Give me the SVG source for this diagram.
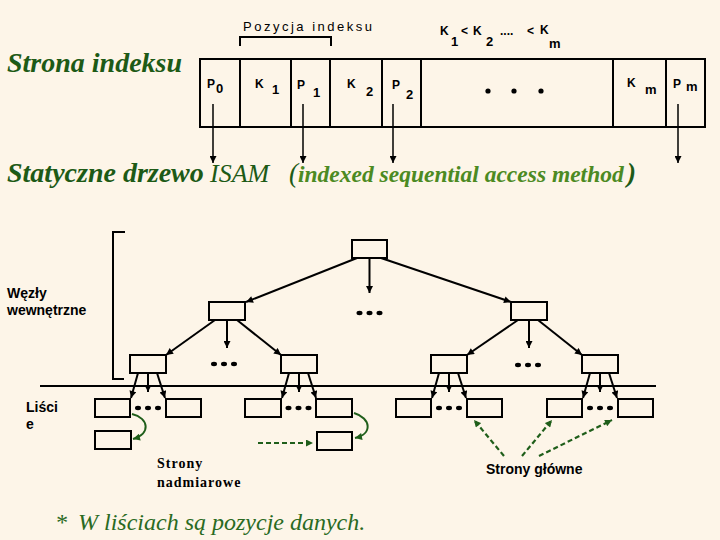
<svg xmlns="http://www.w3.org/2000/svg" width="720" height="540" viewBox="0 0 720 540">
<style>
.bg{fill:#FDF5E8}
.box{fill:none;stroke:#000;stroke-width:2}
.ln{fill:none;stroke:#000;stroke-width:2}
.arr{fill:none;stroke:#000;stroke-width:2;marker-end:url(#ah)}
.iarr{fill:none;stroke:#000;stroke-width:1.5;marker-end:url(#ih)}
.garr{fill:none;stroke:#1F5E1A;stroke-width:2;marker-end:url(#gh)}
.gdash{fill:none;stroke:#1F5E1A;stroke-width:2.2;stroke-dasharray:5 3;marker-end:url(#gh)}
.sans{font-family:"Liberation Sans",Arial,sans-serif;fill:#000}
.cell{font-family:"Liberation Sans",Arial,sans-serif;font-weight:bold;font-size:12px;fill:#000}
.sub{font-family:"Liberation Sans",Arial,sans-serif;font-weight:bold;font-size:13px;fill:#000}
.lbl{font-family:"Liberation Sans",Arial,sans-serif;font-weight:bold;font-size:14px;fill:#000}
.title{font-family:"Liberation Serif","Times New Roman",serif;font-style:italic;fill:#1D5A16}
</style>
<defs>
<marker id="ah" viewBox="0 0 10 10" refX="10" refY="5" markerWidth="9" markerHeight="7" markerUnits="userSpaceOnUse" orient="auto"><path d="M0,0 L10,5 L0,10 z" fill="#000"/></marker>
<marker id="ih" viewBox="0 0 10 10" refX="10" refY="5" markerWidth="12" markerHeight="7" markerUnits="userSpaceOnUse" orient="auto"><path d="M0,0 L10,5 L0,10 z" fill="#000"/></marker>
<marker id="gh" viewBox="0 0 10 10" refX="10" refY="5" markerWidth="8" markerHeight="7" markerUnits="userSpaceOnUse" orient="auto"><path d="M0,0 L10,5 L0,10 z" fill="#1F5E1A"/></marker>
<g id="dots"><ellipse cx="-10" cy="0" rx="3" ry="2.2" fill="#000"/><ellipse cx="0" cy="0" rx="3" ry="2.2" fill="#000"/><ellipse cx="10" cy="0" rx="3" ry="2.2" fill="#000"/></g>
</defs>
<rect class="bg" x="0" y="0" width="720" height="540"/>

<!-- Titles -->
<text class="title" x="7" y="72" font-size="28" font-weight="bold">Strona indeksu</text>
<text class="title" y="182"><tspan x="7" font-size="28" font-weight="bold">Statyczne drzewo</tspan><tspan x="210" font-size="26">ISAM</tspan><tspan x="289" font-size="27">(</tspan><tspan x="298" font-size="23.5" font-weight="bold" fill="#4C8A22">indexed sequential access method</tspan><tspan x="627" font-size="27" font-weight="bold">)</tspan></text>

<!-- Index page -->
<g id="index-page">
<rect class="box" x="200" y="59" width="505" height="68"/>
<path class="ln" d="M240,59 V127 M291,59 V127 M330,59 V127 M382,59 V127 M421,59 V127 M613,59 V127 M666,59 V127"/>
<text class="cell" x="207" y="88">P</text><text class="sub" x="216" y="93">0</text>
<text class="cell" x="255" y="88">K</text><text class="sub" x="272" y="94">1</text>
<text class="cell" x="297" y="89">P</text><text class="sub" x="313" y="97">1</text>
<text class="cell" x="347" y="88">K</text><text class="sub" x="366" y="96">2</text>
<text class="cell" x="392" y="89">P</text><text class="sub" x="406" y="99">2</text>
<text class="cell" x="627" y="87">K</text><text class="sub" x="645" y="94">m</text>
<text class="cell" x="673" y="88">P</text><text class="sub" x="686" y="91">m</text>
<circle cx="488" cy="91" r="2.6" fill="#000"/><circle cx="514" cy="91" r="2.6" fill="#000"/><circle cx="541" cy="91" r="2.6" fill="#000"/>
</g>
<g id="pozycja">
<path class="ln" d="M240,46 V37 H331 V46"/>
<text class="sans" x="243" y="31" font-size="13" letter-spacing="2.5">Pozycja indeksu</text>
</g>
<g id="order">
<text class="cell" x="440" y="35">K</text><text class="sub" x="451" y="46">1</text>
<text class="cell" x="461" y="35">&lt;</text>
<text class="cell" x="473" y="35">K</text><text class="sub" x="486" y="46">2</text>
<text class="cell" x="500" y="35">....</text>
<text class="cell" x="527" y="35">&lt;</text>
<text class="cell" x="540" y="34">K</text><text class="sub" x="549" y="48">m</text>
</g>

<!-- Tree nodes -->
<g id="root"><rect class="box" x="352" y="240" width="35" height="18"/></g>
<g id="n1a"><rect class="box" x="209" y="302" width="36" height="18"/></g>
<g id="n1b"><rect class="box" x="511" y="302" width="36" height="18"/></g>
<g id="n2a"><rect class="box" x="130" y="355" width="36" height="18"/></g>
<g id="n2b"><rect class="box" x="281" y="355" width="36" height="18"/></g>
<g id="n2c"><rect class="box" x="431" y="355" width="36" height="18"/></g>
<g id="n2d"><rect class="box" x="582" y="355" width="36" height="18"/></g>
<g id="leaves">
<rect class="box" x="95" y="399" width="35" height="18"/>
<rect class="box" x="166" y="399" width="35" height="18"/>
<rect class="box" x="245" y="399" width="36" height="18"/>
<rect class="box" x="316" y="399" width="36" height="18"/>
<rect class="box" x="396" y="399" width="35" height="18"/>
<rect class="box" x="467" y="399" width="35" height="18"/>
<rect class="box" x="547" y="399" width="35" height="18"/>
<rect class="box" x="618" y="399" width="35" height="18"/>
</g>
<g id="overflow">
<rect class="box" x="95" y="431" width="36" height="18"/>
<rect class="box" x="317" y="432" width="35" height="18"/>
</g>
<g id="ellipsis">
<use href="#dots" x="369.5" y="313"/>
<use href="#dots" x="224" y="364"/>
<use href="#dots" x="528" y="365"/>
<use href="#dots" x="148" y="408"/>
<use href="#dots" x="298.5" y="408"/>
<use href="#dots" x="449" y="408"/>
<use href="#dots" x="600" y="408"/>
</g>

<!-- Connectors -->
<g id="connectors">
<path class="iarr" d="M213,104 V163"/>
<path class="iarr" d="M303,104 V163"/>
<path class="iarr" d="M393,104 V163"/>
<path class="iarr" d="M678,104 V163"/>

<path class="arr" d="M357,258 L246,302"/>
<path class="arr" d="M369.5,258 V293"/>
<path class="arr" d="M381,258 L511,302"/>
<path class="arr" d="M215,320 L166,355"/>
<path class="arr" d="M227,320 V348"/>
<path class="arr" d="M237,320 L281,355"/>
<path class="arr" d="M518,320 L467,355"/>
<path class="arr" d="M529,320 V348"/>
<path class="arr" d="M538,320 L582,355"/>

<path class="arr" d="M138,373 L131,398"/><path class="arr" d="M148,373 V392"/><path class="arr" d="M157,373 L165,398"/>
<path class="arr" d="M289,373 L282,398"/><path class="arr" d="M299,373 V392"/><path class="arr" d="M308,373 L316,398"/>
<path class="arr" d="M439,373 L432,398"/><path class="arr" d="M449,373 V392"/><path class="arr" d="M458,373 L466,398"/>
<path class="arr" d="M590,373 L583,398"/><path class="arr" d="M600,373 V392"/><path class="arr" d="M609,373 L617,398"/>

<path class="garr" d="M132,414 C149,418 151,434 133,439"/>
<path class="garr" d="M354,413 C371,418 373,434 355,438"/>
<path class="gdash" d="M258,443 H313"/>
<path class="gdash" d="M504,456 L474,420"/>
<path class="gdash" d="M522,456 L552,420"/>
<path class="gdash" d="M539,456 L612,420"/>
</g>

<!-- Level separator and bracket -->
<path class="ln" d="M40,386 H656"/>
<path class="ln" d="M125,232 H113 V379 H124"/>

<!-- Labels -->
<text class="lbl" x="7" y="298">Węzły</text>
<text class="lbl" x="7" y="315">wewnętrzne</text>
<text class="lbl" x="26" y="412">Liści</text>
<text class="lbl" x="26" y="429">e</text>
<text x="157" y="468" font-family="'Liberation Serif','Times New Roman',serif" font-weight="bold" font-size="14" letter-spacing="1" fill="#000">Strony</text>
<text x="157" y="487" font-family="'Liberation Serif','Times New Roman',serif" font-weight="bold" font-size="14" letter-spacing="1" fill="#000">nadmiarowe</text>
<text class="lbl" x="486" y="474">Strony główne</text>
<text font-family="'Liberation Serif','Times New Roman',serif" font-style="italic" font-size="24" fill="#2A6A22" y="530"><tspan x="55">*</tspan><tspan x="78">W liściach są pozycje danych.</tspan></text>
</svg>
